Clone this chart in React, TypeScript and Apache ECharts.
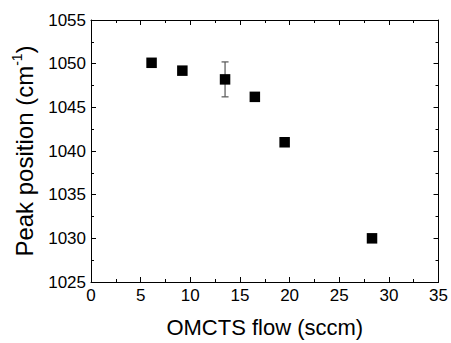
import React, { useEffect, useRef } from "react";
import * as echarts from "echarts";

const flow = [6.1, 9.2, 13.5, 16.5, 19.5, 28.3];
const peak = [1050.1, 1049.2, 1048.2, 1046.2, 1041.0, 1030.0];
const peakErr = [0, 0, 2.0, 0, 0, 0];

const xMin = 0, xMax = 35, xStep = 5;
const yMin = 1025, yMax = 1055, yStep = 5;

const FONT = "'Liberation Sans', Arial, sans-serif";

export default function App() {
  const ref = useRef<HTMLDivElement>(null);
  useEffect(() => {
    if (!ref.current) return;
    const chart = echarts.init(ref.current, undefined, { renderer: "svg" });
    const axisCommon = {
      axisLine: { show: true, onZero: false, lineStyle: { color: "#000", width: 1 } },
      axisTick: { show: true, inside: true, length: 5, lineStyle: { color: "#000" } },
      minorTick: { show: true, splitNumber: 2, length: 3, lineStyle: { color: "#000" } },
      splitLine: { show: false },
    };
    const points = flow.map((x, i) => [x, peak[i]]);
    const errData = flow
      .map((x, i) => [x, peak[i] - peakErr[i], peak[i] + peakErr[i], peakErr[i]])
      .filter((d) => d[3] > 0);
    chart.setOption({
      animation: false,
      backgroundColor: "#fff",
      grid: { left: 91, right: 10, top: 20, bottom: 60, containLabel: false },
      xAxis: [
        {
          type: "value", min: xMin, max: xMax, interval: xStep, position: "bottom",
          ...axisCommon,
          axisLabel: { color: "#000", fontSize: 17, fontFamily: FONT, margin: 5, formatter: (v: number) => String(v) },
          name: "OMCTS flow (sccm)", nameLocation: "middle", nameGap: 34,
          nameTextStyle: { color: "#000", fontSize: 22, fontFamily: FONT },
        },
        {
          type: "value", min: xMin, max: xMax, interval: xStep, position: "top",
          ...axisCommon, axisLabel: { show: false },
        },
      ],
      yAxis: [
        {
          type: "value", min: yMin, max: yMax, interval: yStep, position: "left",
          ...axisCommon,
          axisLabel: { color: "#000", fontSize: 17, fontFamily: FONT, margin: 5, formatter: (v: number) => String(v) },
          name: "{m|Peak position (cm}{s|-1}{m|)}", nameLocation: "middle", nameGap: 53,
          nameTextStyle: {
            color: "#000", fontSize: 24, fontFamily: FONT,
            rich: {
              m: { fontSize: 24, fontFamily: FONT, color: "#000", lineHeight: 28 },
              s: { fontSize: 14, fontFamily: FONT, color: "#000", verticalAlign: "top", lineHeight: 28, padding: [0, 0, 9, 0] },
            },
          },
        },
        {
          type: "value", min: yMin, max: yMax, interval: yStep, position: "right",
          ...axisCommon, axisLabel: { show: false },
        },
      ],
      series: [
        {
          type: "custom",
          z: 1,
          data: errData,
          renderItem: (params: any, api: any) => {
            const x = api.value(0);
            const lo = api.coord([x, api.value(1)]);
            const hi = api.coord([x, api.value(2)]);
            const cw = 3.5;
            const style = { stroke: "#555", lineWidth: 1.2 };
            return {
              type: "group",
              children: [
                { type: "line", shape: { x1: lo[0], y1: lo[1], x2: hi[0], y2: hi[1] }, style },
                { type: "line", shape: { x1: lo[0] - cw, y1: lo[1], x2: lo[0] + cw, y2: lo[1] }, style },
                { type: "line", shape: { x1: hi[0] - cw, y1: hi[1], x2: hi[0] + cw, y2: hi[1] }, style },
              ],
            };
          },
        },
        {
          type: "scatter",
          z: 3,
          data: points,
          symbol: "rect",
          symbolSize: 10.5,
          itemStyle: { color: "#000", opacity: 1 },
        },
      ],
    });
    return () => chart.dispose();
  }, []);
  return <div ref={ref} style={{ width: 451, height: 343, position: "absolute", left: 0, top: 0 }} />;
}
